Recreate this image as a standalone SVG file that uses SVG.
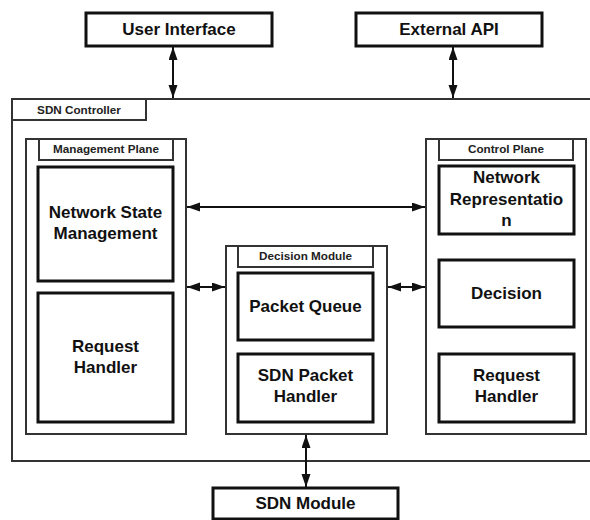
<svg xmlns="http://www.w3.org/2000/svg" width="590" height="520" viewBox="0 0 590 520">
  <style>
    .box { fill: #fff; stroke: #111; stroke-width: 3; }
    .frame { fill: none; stroke: #333; stroke-width: 2; }
    .tab { fill: #fff; stroke: #333; stroke-width: 2; }
    .big { font-family: "Liberation Sans", Arial, sans-serif; font-weight: bold; font-size: 17px; fill: #111; text-anchor: middle; }
    .small { font-family: "Liberation Sans", Arial, sans-serif; font-weight: bold; font-size: 11.7px; fill: #222; text-anchor: middle; }
    .link { stroke: #111; stroke-width: 2; fill: none; marker-start: url(#head); marker-end: url(#head); }
  </style>
  <defs>
    <marker id="head" markerUnits="userSpaceOnUse" markerWidth="14" markerHeight="10" refX="13" refY="4.5" orient="auto-start-reverse">
      <path d="M0,0 L13,4.5 L0,9 z" fill="#111"/>
    </marker>
  </defs>
  <rect width="590" height="520" fill="#fff"/>

  <!-- SDN Controller container (runs past the right edge) -->
  <g id="sdn-controller">
    <rect class="frame" x="12" y="99" width="582" height="362"/>
    <rect class="tab" x="12" y="99" width="134" height="21"/>
    <text class="small" x="79" y="114">SDN Controller</text>
  </g>

  <!-- Management Plane -->
  <g id="management-plane">
    <rect class="frame" x="26" y="139" width="160" height="295"/>
    <rect class="tab" x="39" y="139" width="134" height="21"/>
    <text class="small" x="106" y="153">Management Plane</text>
  </g>
  <g id="network-state-management">
    <rect class="box" x="38" y="167" width="135" height="114"/>
    <text class="big" x="105.5" y="218">Network State</text>
    <text class="big" x="105.5" y="239">Management</text>
  </g>
  <g id="mgmt-request-handler">
    <rect class="box" x="38" y="293" width="135" height="129"/>
    <text class="big" x="105.5" y="352">Request</text>
    <text class="big" x="105.5" y="373">Handler</text>
  </g>

  <!-- Decision Module -->
  <g id="decision-module">
    <rect class="frame" x="226" y="246" width="161" height="188"/>
    <rect class="tab" x="238" y="246" width="135" height="21"/>
    <text class="small" x="305.5" y="260">Decision Module</text>
  </g>
  <g id="packet-queue">
    <rect class="box" x="238" y="273" width="135" height="67"/>
    <text class="big" x="305.5" y="312">Packet Queue</text>
  </g>
  <g id="sdn-packet-handler">
    <rect class="box" x="238" y="354" width="135" height="68"/>
    <text class="big" x="305.5" y="381">SDN Packet</text>
    <text class="big" x="305.5" y="402">Handler</text>
  </g>

  <!-- Control Plane -->
  <g id="control-plane">
    <rect class="frame" x="426" y="139" width="160" height="295"/>
    <rect class="tab" x="439" y="139" width="134" height="21"/>
    <text class="small" x="506" y="153">Control Plane</text>
  </g>
  <g id="network-representation">
    <rect class="box" x="439" y="166" width="135" height="68"/>
    <text class="big" x="506.5" y="183">Network</text>
    <text class="big" x="506.5" y="205">Representatio</text>
    <text class="big" x="506.5" y="226">n</text>
  </g>
  <g id="decision">
    <rect class="box" x="439" y="260" width="135" height="67"/>
    <text class="big" x="506.5" y="299">Decision</text>
  </g>
  <g id="ctrl-request-handler">
    <rect class="box" x="439" y="354" width="135" height="68"/>
    <text class="big" x="506.5" y="381">Request</text>
    <text class="big" x="506.5" y="402">Handler</text>
  </g>

  <!-- External nodes -->
  <g id="user-interface">
    <rect class="box" x="86" y="13" width="186" height="33"/>
    <text class="big" x="179" y="35">User Interface</text>
  </g>
  <g id="external-api">
    <rect class="box" x="356" y="13" width="186" height="33"/>
    <text class="big" x="449" y="35">External API</text>
  </g>
  <g id="sdn-module">
    <rect class="box" x="213" y="488" width="185" height="31"/>
    <text class="big" x="305.5" y="509">SDN Module</text>
  </g>

  <!-- Connectors -->
  <g id="connectors">
    <line class="link" x1="173" y1="47" x2="173" y2="98"/>
    <line class="link" x1="453" y1="47" x2="453" y2="98"/>
    <line class="link" x1="187" y1="207" x2="425" y2="207"/>
    <line class="link" x1="187" y1="287" x2="225" y2="287"/>
    <line class="link" x1="388" y1="287" x2="425" y2="287"/>
    <line class="link" x1="306" y1="435" x2="306" y2="487"/>
  </g>
</svg>
